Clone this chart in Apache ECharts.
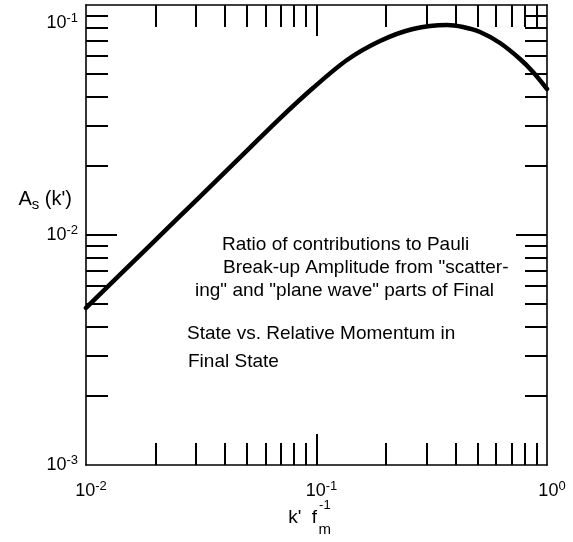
<!DOCTYPE html>
<html><head><meta charset="utf-8">
<script src="https://cdn.jsdelivr.net/npm/echarts@6/dist/echarts.min.js"></script>
<style>html,body{margin:0;padding:0;background:#fff}#c{width:573px;height:542px}</style>
</head><body><div id="c"></div>
<script>
// k' (fm^-1) and A_s(k')
const kValues  = [0.01, 0.01896, 0.03124, 0.05147, 0.06944, 0.09656, 0.1356, 0.1886, 0.2623, 0.3683, 0.4320, 0.5122, 0.6255, 0.7637, 0.8696, 1.0];
const asValues = [0.004817, 0.009015, 0.01470, 0.02399, 0.03217, 0.04356, 0.05767, 0.06976, 0.07866, 0.08185, 0.08022, 0.07631, 0.06836, 0.05824, 0.05112, 0.04313];
const xTickLabels = [0.01, 0.1, 1];
const yTickLabels = [0.001, 0.01, 0.1];
const xMajorTicks = [0.1];
const yMajorTicks = [0.01];
const xMinorTicks = [0.02,0.03,0.04,0.05,0.06,0.07,0.08,0.09,0.2,0.3,0.4,0.5,0.6,0.7,0.8,0.9];
const yMinorTicks = [0.002,0.003,0.004,0.005,0.006,0.007,0.008,0.009,0.02,0.03,0.04,0.05,0.06,0.07,0.08,0.09];
const noteLines = [
  'Ratio of contributions to Pauli',
  'Break-up Amplitude from "scatter-',
  'ing" and "plane wave" parts of Final',
  'State vs. Relative Momentum in',
  'Final State'
];
const noteLayout = [[222,245],[223,268],[195,291],[187,334],[188,362]];

const L = Math.log10;
const FONT = '"Liberation Sans", Arial, sans-serif';
const lineData = kValues.map((k, i) => [L(k), L(asValues[i])]);
const lg = a => a.map(L);
const xMin = L(xTickLabels[0]), xMax = L(xTickLabels[xTickLabels.length-1]);
const yMin = L(yTickLabels[0]), yMax = L(yTickLabels[yTickLabels.length-1]);

const labelRich = {
  b: {fontSize: 18, fontFamily: FONT, color: '#000', lineHeight: 22, verticalAlign: 'middle'},
  s: {fontSize: 13, fontFamily: FONT, color: '#000', verticalAlign: 'top'},
  e: {fontSize: 10, lineHeight: 36}
};
const expOf = v => String(Math.round(v));
const gridBox = {left: 86, top: 5, width: 461, height: 460, outerBoundsMode: 'none', containLabel: false};
const lineStyle = {color: '#000', width: 1.6};
const tickStyle = {color: '#000', width: 2};

function xAx(grid, pos, ticks, len, labels) {
  return {
    type: 'value', gridIndex: grid, position: pos, min: xMin, max: xMax,
    axisLine: {show: grid === 0, lineStyle: lineStyle, onZero: false},
    axisTick: {show: true, inside: true, length: len, lineStyle: tickStyle, customValues: lg(ticks)},
    axisLabel: labels ? {
      show: true, customValues: lg(labels), margin: 15, padding: [0,0,0,10],
      formatter: v => '{b|10}{s|' + expOf(v) + '}', rich: labelRich
    } : {show: false},
    splitLine: {show: false}, minorTick: {show: false}, minorSplitLine: {show: false}
  };
}
function yAx(grid, pos, ticks, len, labels) {
  return {
    type: 'value', gridIndex: grid, position: pos, min: yMin, max: yMax,
    axisLine: {show: grid === 0, lineStyle: lineStyle, onZero: false},
    axisTick: {show: true, inside: true, length: len, lineStyle: tickStyle, customValues: lg(ticks)},
    axisLabel: labels ? {
      show: true, customValues: lg(labels), margin: 8,
      formatter: v => (Math.round(v) === Math.round(yMax) ? '{e| }\n' : '') + '{b|10}{s|' + expOf(v) + '}',
      rich: labelRich
    } : {show: false},
    splitLine: {show: false}, minorTick: {show: false}, minorSplitLine: {show: false}
  };
}

const xAxes = [
  xAx(0, 'bottom', xMajorTicks, 31, xTickLabels),
  xAx(0, 'top', xMajorTicks, 31, null),
  xAx(1, 'bottom', xMinorTicks, 22, null),
  xAx(1, 'top', xMinorTicks, 22, null)
];
xAxes[0].name = '{a|k\'  f}{sp| }{sub|m}{sup|-1}';
xAxes[0].nameLocation = 'middle';
xAxes[0].nameGap = 34;
xAxes[0].nameMoveOverlap = false;
xAxes[0].nameTextStyle = {
  align: 'center', verticalAlign: 'top', padding: [0,20,0,0],
  rich: {
    a: {fontSize: 19, fontFamily: FONT, color: '#000', lineHeight: 38, verticalAlign: 'middle'},
    sp: {fontSize: 28, fontFamily: FONT, color: '#000', verticalAlign: 'middle'},
    sub: {fontSize: 15, fontFamily: FONT, color: '#000', verticalAlign: 'bottom', width: 0},
    sup: {fontSize: 13, fontFamily: FONT, color: '#000', verticalAlign: 'top', width: 0}
  }
};
const yAxes = [
  yAx(0, 'left', yMajorTicks, 31, yTickLabels),
  yAx(0, 'right', yMajorTicks, 31, null),
  yAx(1, 'left', yMinorTicks, 22, null),
  yAx(1, 'right', yMinorTicks, 22, null)
];
yAxes[0].name = '{a|A}{sub|s}{a| (k\')}';
yAxes[0].nameLocation = 'middle';
yAxes[0].nameRotate = 0;
yAxes[0].nameGap = 14;
yAxes[0].nameMoveOverlap = false;
yAxes[0].nameTextStyle = {
  align: 'right', verticalAlign: 'middle', padding: [0,0,72,0],
  rich: {
    a: {fontSize: 20, fontFamily: FONT, color: '#000', lineHeight: 26, verticalAlign: 'middle'},
    sub: {fontSize: 15, fontFamily: FONT, color: '#000', verticalAlign: 'bottom'}
  }
};

const chart = echarts.init(document.getElementById('c'), null, {renderer: 'canvas'});
chart.setOption({
  backgroundColor: '#fff',
  animation: false,
  grid: [Object.assign({}, gridBox), Object.assign({}, gridBox)],
  xAxis: xAxes,
  yAxis: yAxes,
  series: [{
    type: 'line', xAxisIndex: 0, yAxisIndex: 0, data: lineData,
    smooth: 0.3, symbol: 'none', clip: false,
    lineStyle: {color: '#000', width: 4.5, cap: 'round', join: 'round'}
  }],
  graphic: noteLines.map((t, i) => ({
    type: 'text', x: noteLayout[i][0], y: noteLayout[i][1], silent: true,
    style: {text: t, fontSize: 19, fontFamily: FONT, fill: '#000', verticalAlign: 'middle', align: 'left'}
  }))
});
</script>
</body></html>
